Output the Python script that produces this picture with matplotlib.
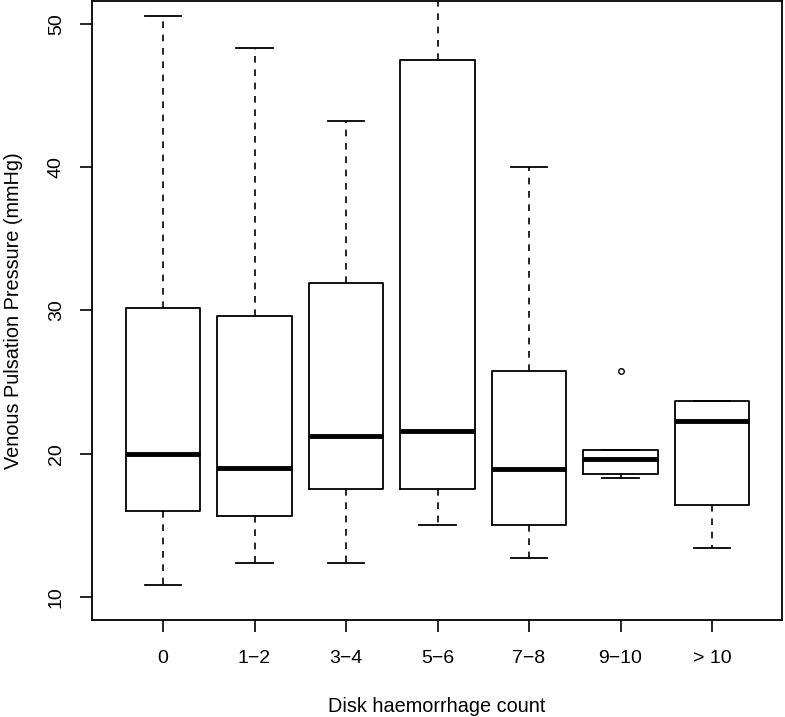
import matplotlib
matplotlib.use("Agg")
import matplotlib.pyplot as plt

plt.rcParams["font.family"] = ["Liberation Sans", "DejaVu Sans"]

groups = ["0", "1\u22122", "3\u22124", "5\u22126", "7\u22128", "9\u221210", "> 10"]
whislo = [10.8, 12.35, 12.4, 15.0, 12.75, 18.3, 13.4]
q1 = [16.0, 15.65, 17.5, 17.5, 15.0, 18.6, 16.45]
med = [20.0, 19.0, 21.2, 21.6, 18.95, 19.6, 22.3]
q3 = [30.15, 29.6, 31.9, 47.5, 25.8, 20.25, 23.7]
whishi = [50.55, 48.35, 43.25, 53.5, 40.0, 20.25, 23.7]
fliers = [[], [], [], [], [], [25.8], []]

stats = []
for i, g in enumerate(groups):
    stats.append(dict(label=g, whislo=whislo[i], q1=q1[i], med=med[i],
                      q3=q3[i], whishi=whishi[i], fliers=fliers[i]))

fig = plt.figure(figsize=(7.85, 7.17), dpi=100)
ax = fig.add_axes([0.1172, 0.1353, 0.879, 0.8633])

ax.bxp(stats, positions=range(1, 8), widths=0.81, capwidths=0.4,
       boxprops=dict(color="black", linewidth=1.3),
       medianprops=dict(color="black", linewidth=3.5, solid_capstyle="butt"),
       whiskerprops=dict(color="black", linewidth=1.2, linestyle=(0, (4, 4))),
       capprops=dict(color="black", linewidth=1.3),
       flierprops=dict(marker="o", markersize=4, markerfacecolor="none",
                       markeredgecolor="black", markeredgewidth=1.0))

ax.set_xlim(0.224, 7.765)
ax.set_ylim(8.39, 51.6)
ax.set_yticks([10, 20, 30, 40, 50])

for s in ax.spines.values():
    s.set_linewidth(1.3)

ax.tick_params(axis="both", direction="out", length=8.6, width=1.2,
               labelsize=14)
ax.tick_params(axis="x", pad=13)
ax.tick_params(axis="y", pad=11)
for lab in ax.get_yticklabels():
    lab.set_rotation(90)
    lab.set_va("center")

ax.set_xlabel("Disk haemorrhage count", fontsize=14.3)
ax.set_ylabel("Venous Pulsation Pressure (mmHg)", fontsize=14.3)
ax.xaxis.set_label_coords(0.5, -0.124)
ax.yaxis.set_label_coords(-0.1, 0.5)

fig.savefig("out.png", dpi=100)
